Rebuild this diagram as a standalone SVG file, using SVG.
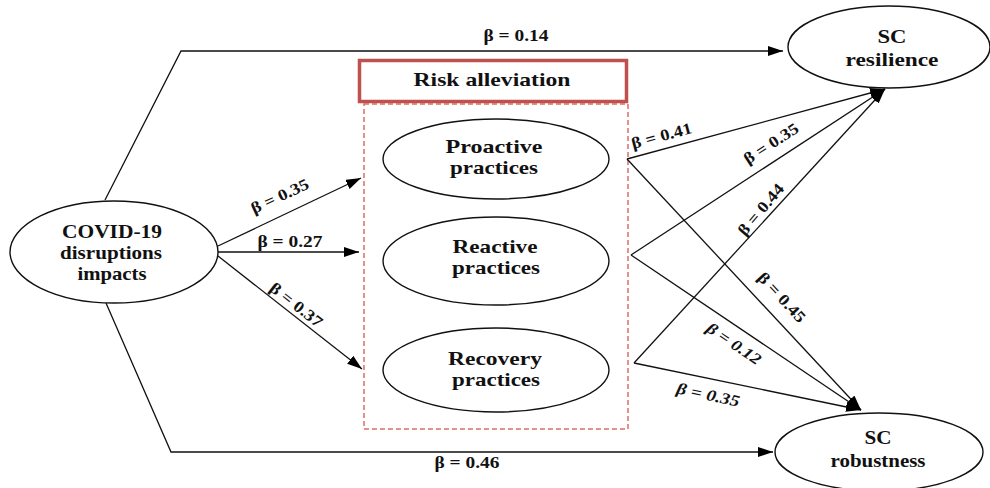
<svg xmlns="http://www.w3.org/2000/svg" width="990" height="488" viewBox="0 0 990 488">
<style>
.n{fill:#fff;stroke:#111;stroke-width:1.4}
.t{font-family:"Liberation Serif","Times New Roman",serif;font-weight:bold;font-size:19px;fill:#111;text-anchor:middle}
.l{font-family:"Liberation Serif","Times New Roman",serif;font-weight:bold;font-size:16px;fill:#111;text-anchor:middle}
.i{font-style:italic}
.c{fill:none;stroke:#111;stroke-width:1.3}
</style>
<defs>
<marker id="a" markerUnits="userSpaceOnUse" markerWidth="16" markerHeight="11" refX="15" refY="5" orient="auto">
<path d="M0,0 L15,5 L0,10 z" fill="#000"/>
</marker>
</defs>
<rect width="990" height="488" fill="#fff"/>
<g id="risk-alleviation">
<rect x="364" y="104" width="264" height="325" fill="none" stroke="#e06b6b" stroke-width="1.5" stroke-dasharray="5 3"/>
<rect x="359.5" y="60.5" width="267" height="41" fill="#fff" stroke="#c0504d" stroke-width="3.5"/>
<text class="t" x="492" y="86" textLength="157" lengthAdjust="spacingAndGlyphs">Risk alleviation</text>
</g>
<g id="connectors">
<polyline class="c" points="105,200 181,51 783,51" marker-end="url(#a)"/>
<polyline class="c" points="106,303 171,452 773,452" marker-end="url(#a)"/>
<line class="c" x1="218" y1="246" x2="361" y2="178" marker-end="url(#a)"/>
<line class="c" x1="218" y1="252" x2="359" y2="252" marker-end="url(#a)"/>
<line class="c" x1="218" y1="256" x2="362" y2="369" marker-end="url(#a)"/>
<line class="c" x1="627" y1="159" x2="885" y2="89" marker-end="url(#a)"/>
<line class="c" x1="631" y1="255" x2="885" y2="89" marker-end="url(#a)"/>
<line class="c" x1="634" y1="363" x2="885" y2="89" marker-end="url(#a)"/>
<line class="c" x1="627" y1="159" x2="861" y2="410" marker-end="url(#a)"/>
<line class="c" x1="631" y1="255" x2="861" y2="410" marker-end="url(#a)"/>
<line class="c" x1="634" y1="363" x2="861" y2="410" marker-end="url(#a)"/>
<text class="l" x="516" y="41" textLength="65" lengthAdjust="spacingAndGlyphs">β = 0.14</text>
<text class="l" x="467" y="468" textLength="65" lengthAdjust="spacingAndGlyphs">β = 0.46</text>
<text class="l" x="290" y="247" textLength="65" lengthAdjust="spacingAndGlyphs">β = 0.27</text>
<text class="l" transform="translate(282,201) rotate(-25)" textLength="62" lengthAdjust="spacingAndGlyphs">β = 0.35</text>
<text class="l" transform="translate(293,309) rotate(38)" textLength="62" lengthAdjust="spacingAndGlyphs">β = 0.37</text>
<text class="l" transform="translate(663,141) rotate(-15)" textLength="62" lengthAdjust="spacingAndGlyphs">β = 0.41</text>
<text class="l" transform="translate(774,148) rotate(-33)" textLength="62" lengthAdjust="spacingAndGlyphs">β = 0.35</text>
<text class="l" transform="translate(765,213) rotate(-50)" textLength="62" lengthAdjust="spacingAndGlyphs">β = 0.44</text>
<text class="l" transform="translate(778,301) rotate(47)" textLength="62" lengthAdjust="spacingAndGlyphs">β = 0.45</text>
<text class="l i" transform="translate(731,348) rotate(34)" textLength="62" lengthAdjust="spacingAndGlyphs">β = 0.12</text>
<text class="l i" transform="translate(707,400) rotate(12)" textLength="64" lengthAdjust="spacingAndGlyphs">β = 0.35</text>
</g>
<g id="covid">
<ellipse class="n" cx="114" cy="252" rx="104" ry="51"/>
<text class="t" x="112" y="238" textLength="100" lengthAdjust="spacingAndGlyphs">COVID-19</text>
<text class="t" x="111" y="259" textLength="102" lengthAdjust="spacingAndGlyphs">disruptions</text>
<text class="t" x="112" y="280" textLength="69" lengthAdjust="spacingAndGlyphs">impacts</text>
</g>
<g id="proactive">
<ellipse class="n" cx="496" cy="159" rx="113" ry="40"/>
<text class="t" x="494" y="153" textLength="97" lengthAdjust="spacingAndGlyphs">Proactive</text>
<text class="t" x="494" y="174" textLength="88" lengthAdjust="spacingAndGlyphs">practices</text>
</g>
<g id="reactive">
<ellipse class="n" cx="496" cy="261" rx="113" ry="44"/>
<text class="t" x="495" y="253" textLength="85" lengthAdjust="spacingAndGlyphs">Reactive</text>
<text class="t" x="496" y="274" textLength="88" lengthAdjust="spacingAndGlyphs">practices</text>
</g>
<g id="recovery">
<ellipse class="n" cx="496" cy="370" rx="113" ry="42"/>
<text class="t" x="495" y="365" textLength="94" lengthAdjust="spacingAndGlyphs">Recovery</text>
<text class="t" x="496" y="386" textLength="88" lengthAdjust="spacingAndGlyphs">practices</text>
</g>
<g id="sc-resilience">
<ellipse class="n" cx="889" cy="47" rx="101" ry="41"/>
<text class="t" x="892" y="43" textLength="29" lengthAdjust="spacingAndGlyphs">SC</text>
<text class="t" x="892" y="66" textLength="93" lengthAdjust="spacingAndGlyphs">resilience</text>
</g>
<g id="sc-robustness">
<ellipse class="n" cx="879" cy="452" rx="104" ry="39"/>
<text class="t" x="878" y="444" textLength="27" lengthAdjust="spacingAndGlyphs">SC</text>
<text class="t" x="878" y="467" textLength="95" lengthAdjust="spacingAndGlyphs">robustness</text>
</g>
</svg>
